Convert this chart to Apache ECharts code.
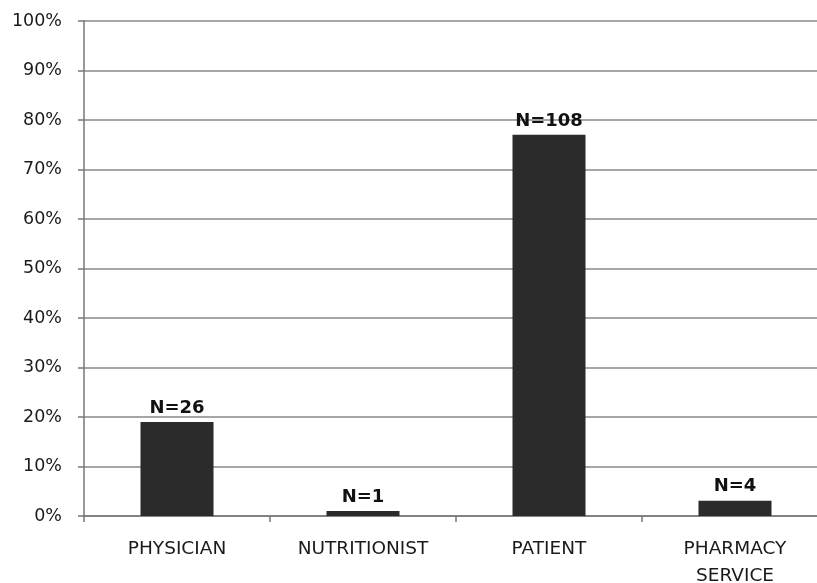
<!DOCTYPE html>
<html>
<head>
<meta charset="utf-8">
<script src="https://cdn.jsdelivr.net/npm/echarts@6/dist/echarts.min.js"></script>
<style>
  html, body { margin: 0; padding: 0; background: #fff; }
  #chart { width: 817px; height: 583px; }
</style>
</head>
<body>
<div id="chart"></div>
<script>
// Share of respondents by source (percent) and group counts
const categories = ['PHYSICIAN', 'NUTRITIONIST', 'PATIENT', 'PHARMACY\nSERVICE'];
const shares = [19, 1, 77, 3.1];
const counts = [26, 1, 108, 4];
const yTicks = [0, 10, 20, 30, 40, 50, 60, 70, 80, 90, 100];

const chart = echarts.init(document.getElementById('chart'));
const font = '"DejaVu Sans", sans-serif';

chart.setOption({
  animation: false,
  grid: { left: 84, top: 21, width: 744, height: 495, containLabel: false, outerBoundsMode: 'none' },
  xAxis: {
    type: 'category',
    data: categories,
    axisLine: { show: true, lineStyle: { color: '#777', width: 1.5 } },
    axisTick: { show: true, length: 6, alignWithLabel: false, lineStyle: { color: '#777', width: 1.5 } },
    axisLabel: { color: '#1a1a1a', fontSize: 18.5, fontFamily: font, margin: 20, lineHeight: 27 }
  },
  yAxis: {
    type: 'value',
    min: yTicks[0],
    max: yTicks[yTicks.length - 1],
    interval: 10,
    axisLine: { show: true, lineStyle: { color: '#777', width: 1.5 } },
    axisTick: { show: true, length: 6, lineStyle: { color: '#777', width: 1.5 } },
    axisLabel: { color: '#1a1a1a', fontSize: 17.5, fontFamily: font, margin: 22, formatter: v => v + '%' },
    splitLine: { show: true, lineStyle: { color: '#888', width: 1.5 } }
  },
  series: [{
    type: 'bar',
    data: shares,
    barWidth: 73,
    itemStyle: { color: '#2b2b2b' },
    label: {
      show: true,
      position: 'top',
      distance: 5,
      color: '#111',
      fontSize: 18,
      fontWeight: 'bold',
      fontFamily: font,
      formatter: p => 'N=' + counts[p.dataIndex]
    }
  }]
});
</script>
</body>
</html>
